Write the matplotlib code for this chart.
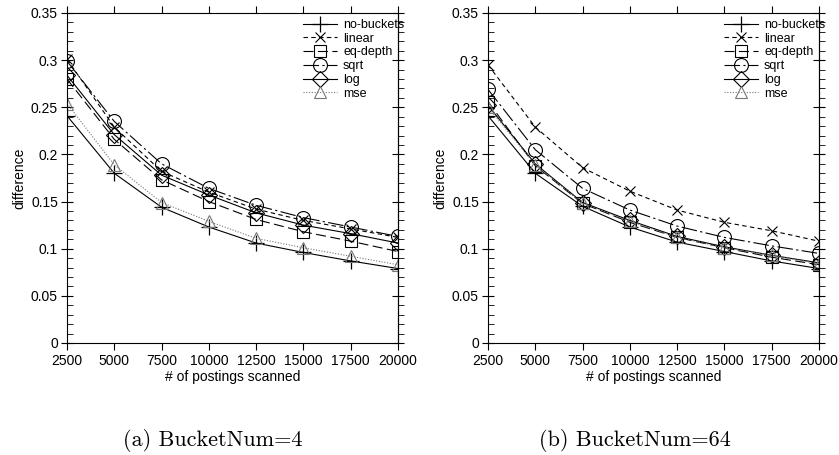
import matplotlib
matplotlib.use("Agg")
import matplotlib.pyplot as plt
from matplotlib.ticker import MultipleLocator

x = [2500, 5000, 7500, 10000, 12500, 15000, 17500, 20000]
x_labels = ["2500", "5000", "7500", "10000", "12500", "15000", "17500", "20000"]
y_ticks = [0, 0.05, 0.1, 0.15, 0.2, 0.25, 0.3, 0.35]
y_labels = ["0", "0.05", "0.1", "0.15", "0.2", "0.25", "0.3", "0.35"]
series_names = ["no-buckets", "linear", "eq-depth", "sqrt", "log", "mse"]

# (a) BucketNum=4
a_nobuckets = [0.241, 0.180, 0.144, 0.123, 0.106, 0.096, 0.087, 0.079]
a_linear    = [0.301, 0.229, 0.182, 0.160, 0.142, 0.130, 0.121, 0.112]
a_eqdepth   = [0.280, 0.216, 0.173, 0.150, 0.131, 0.118, 0.108, 0.097]
a_sqrt      = [0.299, 0.235, 0.190, 0.164, 0.146, 0.133, 0.123, 0.113]
a_log       = [0.284, 0.221, 0.178, 0.157, 0.138, 0.125, 0.116, 0.106]
a_mse       = [0.254, 0.189, 0.149, 0.129, 0.111, 0.101, 0.092, 0.083]

# (b) BucketNum=64
b_nobuckets = [0.241, 0.180, 0.145, 0.123, 0.107, 0.097, 0.087, 0.079]
b_linear    = [0.295, 0.229, 0.186, 0.161, 0.141, 0.128, 0.119, 0.108]
b_eqdepth   = [0.256, 0.188, 0.148, 0.128, 0.112, 0.101, 0.091, 0.083]
b_sqrt      = [0.269, 0.205, 0.164, 0.141, 0.124, 0.112, 0.103, 0.095]
b_log       = [0.252, 0.190, 0.149, 0.130, 0.113, 0.102, 0.093, 0.085]
b_mse       = [0.250, 0.189, 0.148, 0.129, 0.112, 0.101, 0.093, 0.084]

captions = ["(a) BucketNum=4", "(b) BucketNum=64"]
panels = [
    [a_nobuckets, a_linear, a_eqdepth, a_sqrt, a_log, a_mse],
    [b_nobuckets, b_linear, b_eqdepth, b_sqrt, b_log, b_mse],
]

styles = [
    dict(color="black", linestyle="-", marker="+", ms=11, mew=0.9),
    dict(color="black", linestyle=(0, (4, 3)), marker="x", ms=7, mew=0.8),
    dict(color="black", linestyle=(0, (9, 4)), marker="s", ms=9, mew=0.8, mfc="none"),
    dict(color="black", linestyle=(0, (14, 3, 2, 3)), marker="o", ms=10, mew=0.8, mfc="none"),
    dict(color="black", linestyle="-", marker="D", ms=8, mew=0.8, mfc="none"),
    dict(color="#777777", linestyle=(0, (1, 1.5)), marker="^", ms=9, mew=0.8, mfc="none"),
]

plt.rcParams["font.family"] = ["Liberation Sans", "DejaVu Sans"]
fig = plt.figure(figsize=(8.39, 4.55), dpi=100)

W, H = 839.0, 455.0
lefts = [67, 488]
cap_centers = [213, 635]
for i, data in enumerate(panels):
    l = lefts[i]
    ax = fig.add_axes([l / W, (H - 343) / H, 331 / W, 330 / H])
    for name, ys, st in zip(series_names, data, styles):
        ax.plot(x, ys, lw=0.8, label=name, **st)
    ax.set_xlim(2500, 20000)
    ax.set_ylim(0, 0.35)
    ax.set_xticks(x)
    ax.set_xticklabels(x_labels, fontsize=10)
    ax.set_yticks(y_ticks)
    ax.set_yticklabels(y_labels, fontsize=10)
    ax.yaxis.set_minor_locator(MultipleLocator(0.01))
    ax.tick_params(axis="x", which="major", direction="out", length=5, width=0.8,
                   top=True, bottom=True, pad=3)
    ax.tick_params(axis="y", which="major", direction="inout", length=9, width=0.8,
                   left=True, right=False, pad=2)
    ax.tick_params(axis="y", which="minor", direction="in", length=4, width=0.6,
                   left=True, right=False)
    sec = ax.secondary_yaxis("right")
    sec.set_yticks(y_ticks)
    sec.yaxis.set_minor_locator(MultipleLocator(0.01))
    sec.tick_params(axis="y", which="major", direction="inout", length=9, width=0.8, labelright=False)
    sec.tick_params(axis="y", which="minor", direction="out", length=4, width=0.6)
    sec.spines["right"].set_linewidth(0.8)
    for s in ax.spines.values():
        s.set_linewidth(0.8)
    ax.set_xlabel("# of postings scanned", fontsize=10, labelpad=1)
    ax.set_ylabel("difference", fontsize=10, labelpad=3)
    ax.legend(loc="upper left", bbox_to_anchor=(0.713, 0.982), frameon=False,
              fontsize=9, borderpad=0, borderaxespad=0, labelspacing=0.14,
              handlelength=2.7, handletextpad=0.5, numpoints=1)
    fig.text(cap_centers[i] / W, 1 - 441 / H, captions[i], fontsize=16,
             family="cmr10", ha="center", va="center")

fig.savefig("out.png", dpi=100)
